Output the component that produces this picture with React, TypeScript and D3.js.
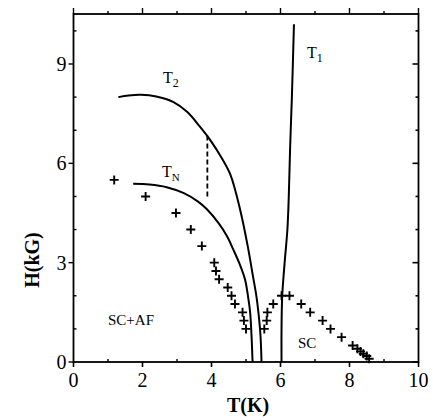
import React from "react";
import * as d3 from "d3";

const xTicks = [0, 2, 4, 6, 8, 10];
const xMinor = [1, 3, 5, 7, 9];
const yTicks = [0, 3, 6, 9];
const yMinor = [1, 2, 4, 5, 7, 8, 10];

const t2Curve: [number, number][] = [
  [1.3, 8.0], [1.6, 8.05], [1.95, 8.07], [2.4, 8.02], [2.9, 7.85], [3.3, 7.55],
  [3.67, 7.1], [4.0, 6.65], [4.3, 6.15], [4.55, 5.65], [4.83, 4.6], [5.05, 3.5],
  [5.2, 2.6], [5.3, 2.0], [5.36, 1.5], [5.42, 0.8], [5.45, 0],
];
const tnCurve: [number, number][] = [
  [1.73, 5.38], [2.2, 5.36], [2.7, 5.28], [3.2, 5.1], [3.6, 4.85], [3.86, 4.62],
  [4.2, 4.2], [4.45, 3.8], [4.63, 3.4], [4.8, 3.0], [4.97, 2.5], [5.07, 1.9],
  [5.12, 1.5], [5.16, 0.8], [5.19, 0],
];
const t1Curve: [number, number][] = [
  [6.03, 0], [6.03, 1], [6.05, 2], [6.12, 3], [6.2, 4], [6.24, 5], [6.28, 6.5],
  [6.33, 8], [6.39, 10.2],
];
const dashed: [number, number][] = [[3.88, 5.0], [3.88, 6.85]];

const crossT = [
  1.18, 2.09, 2.97, 3.4, 3.72, 4.08, 4.13, 4.22, 4.47, 4.58, 4.68, 4.9, 4.94, 5.0,
  5.53, 5.6, 5.62, 5.79, 6.03, 6.26, 6.6, 6.86, 7.22, 7.45, 7.77, 8.09, 8.23, 8.32,
  8.4, 8.5, 8.57,
];
const crossH = [
  5.5, 5.0, 4.5, 4.0, 3.5, 3.0, 2.75, 2.5, 2.25, 2.0, 1.75, 1.5, 1.25, 1.0,
  1.0, 1.25, 1.5, 1.75, 2.0, 2.0, 1.75, 1.5, 1.25, 1.0, 0.75, 0.5, 0.4, 0.32,
  0.25, 0.18, 0.1,
];

const W = 433, H = 420;
const left = 73.5, right = 418.5, top = 14, bottom = 362;
const font = "'Liberation Serif', 'DejaVu Serif', serif";

export default function App() {
  const x = d3.scaleLinear().domain([0, 10]).range([left, right]);
  const y = d3.scaleLinear().domain([0, 10.51]).range([bottom, top]);
  const line = d3.line<[number, number]>()
    .x((d) => x(d[0]))
    .y((d) => y(d[1]))
    .curve(d3.curveCatmullRom.alpha(0.5));
  const straight = d3.line<[number, number]>().x((d) => x(d[0])).y((d) => y(d[1]));

  return (
    <svg width={W} height={H} style={{ position: "absolute", left: 0, top: 0, background: "#fff" }}>
      <rect x={0} y={0} width={W} height={H} fill="#fff" />
      {/* frame */}
      <rect x={left} y={top} width={right - left} height={bottom - top} fill="none" stroke="#000" strokeWidth={1.8} />
      {/* bottom ticks */}
      {xTicks.map((t) => (
        <g key={"xb" + t}>
          <line x1={x(t)} x2={x(t)} y1={bottom} y2={bottom + 5} stroke="#000" strokeWidth={1.6} />
          <line x1={x(t)} x2={x(t)} y1={top} y2={top - 6} stroke="#000" strokeWidth={1.4} />
          <text x={x(t)} y={bottom + 25} textAnchor="middle" fontFamily={font} fontSize={20}>{t}</text>
        </g>
      ))}
      {xMinor.map((t) => (
        <g key={"xm" + t}>
          <line x1={x(t)} x2={x(t)} y1={bottom} y2={bottom - 3} stroke="#000" strokeWidth={1.4} />
          <line x1={x(t)} x2={x(t)} y1={top} y2={top - 3} stroke="#000" strokeWidth={1.4} />
        </g>
      ))}
      {yTicks.map((t) => (
        <g key={"yt" + t}>
          <line x1={left} x2={left - 5} y1={y(t)} y2={y(t)} stroke="#000" strokeWidth={1.4} />
          <line x1={right} x2={right - 6} y1={y(t)} y2={y(t)} stroke="#000" strokeWidth={1.6} />
          <text x={left - 7} y={y(t) + 7} textAnchor="end" fontFamily={font} fontSize={20}>{t}</text>
        </g>
      ))}
      {yMinor.map((t) => (
        <g key={"ym" + t}>
          <line x1={left} x2={left + 3} y1={y(t)} y2={y(t)} stroke="#000" strokeWidth={1.4} />
          <line x1={right} x2={right - 3} y1={y(t)} y2={y(t)} stroke="#000" strokeWidth={1.6} />
        </g>
      ))}
      {/* curves */}
      <path d={line(t2Curve) ?? ""} fill="none" stroke="#000" strokeWidth={2} />
      <path d={line(tnCurve) ?? ""} fill="none" stroke="#000" strokeWidth={2} />
      <path d={line(t1Curve) ?? ""} fill="none" stroke="#000" strokeWidth={2} />
      <path d={straight(dashed) ?? ""} fill="none" stroke="#000" strokeWidth={1.8} strokeDasharray="5,3" />
      {/* crosses */}
      {crossT.map((t, i) => {
        const cx = x(t), cy = y(crossH[i]);
        return (
          <path key={"c" + i} d={`M${cx - 4.5},${cy}H${cx + 4.5}M${cx},${cy - 4.5}V${cy + 4.5}`} stroke="#000" strokeWidth={1.9} />
        );
      })}
      {/* labels */}
      <text x={163} y={83} fontFamily={font} fontSize={16}>T<tspan fontSize={12} dy={4}>2</tspan></text>
      <text x={307} y={58} fontFamily={font} fontSize={16}>T<tspan fontSize={12} dy={4}>1</tspan></text>
      <text x={162} y={177} fontFamily={font} fontSize={16}>T<tspan fontSize={11} dy={4}>N</tspan></text>
      <text x={108} y={325} fontFamily={font} fontSize={15}>SC+AF</text>
      <text x={298} y={348} fontFamily={font} fontSize={15}>SC</text>
      <text x={(left + right) / 2 + 2} y={412} textAnchor="middle" fontFamily={font} fontSize={20} fontWeight="bold">T(K)</text>
      <text transform={`translate(39,${(top + bottom) / 2 + 72}) rotate(-90)`} textAnchor="middle" fontFamily={font} fontSize={20} fontWeight="bold">H(kG)</text>
    </svg>
  );
}
